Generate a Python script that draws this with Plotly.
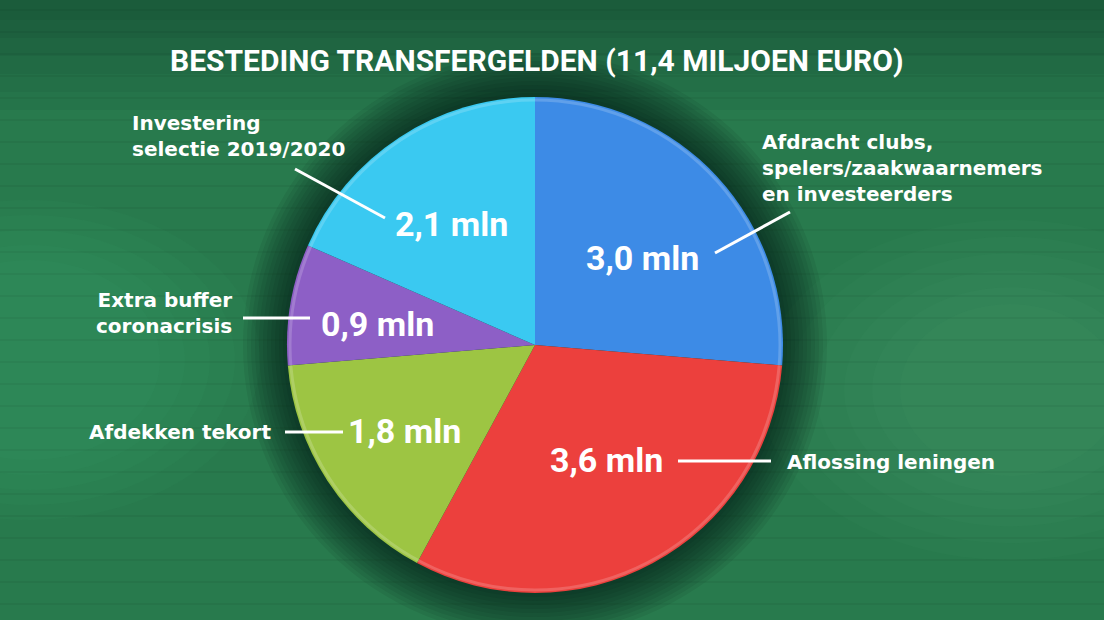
import plotly.graph_objects as go

# ---- data ----
categories = ["Afdracht clubs,<br>spelers/zaakwaarnemers<br>en investeerders",
              "Aflossing leningen",
              "Afdekken tekort",
              "Extra buffer<br>coronacrisis",
              "Investering<br>selectie 2019/2020"]
values = [3.0, 3.6, 1.8, 0.9, 2.1]
colors = ["#3d8be6", "#ec403d", "#9dc543", "#8d5fc6", "#3ac9f1"]
title_text = "BESTEDING TRANSFERGELDEN (11,4 MILJOEN EURO)"

W, H = 1104, 620
CX, CY, R = 535, 345, 248
NARROW = "Roboto, Liberation Sans, sans-serif"

def px(x):
    return x / W

def py(y):
    return 1 - y / H

fig = go.Figure()
fig.add_trace(go.Pie(
    values=values, labels=categories, sort=False, direction="clockwise", rotation=0,
    marker=dict(colors=colors, line=dict(width=0)),
    textinfo="none", hoverinfo="label+value", showlegend=False,
    domain=dict(x=[px(CX - R), px(CX + R)], y=[py(CY + R), py(CY - R)]),
))

shapes = []
# background lighting (soft, layered)
for i in range(6):
    shapes.append(dict(type="rect", xref="paper", yref="paper", x0=0, x1=1,
                       y0=py(20 + i * 18), y1=1, fillcolor="rgba(0,25,10,0.05)",
                       line=dict(width=0), layer="below"))
for i in range(6):
    s = i * 28
    shapes.append(dict(type="circle", xref="paper", yref="paper",
                       x0=px(760 + s), x1=px(1260 - s), y0=py(560 - s * 0.6), y1=py(220 + s * 0.6),
                       fillcolor="rgba(100,210,150,0.035)", line=dict(width=0), layer="below"))
for i in range(5):
    s = i * 25
    shapes.append(dict(type="circle", xref="paper", yref="paper",
                       x0=px(-200 + s), x1=px(260 - s), y0=py(520 - s * 0.6), y1=py(200 + s * 0.6),
                       fillcolor="rgba(100,210,150,0.03)", line=dict(width=0), layer="below"))
# horizontal scan stripes
for yy in range(10, H, 22):
    shapes.append(dict(type="line", xref="paper", yref="paper", x0=0, x1=1, y0=py(yy), y1=py(yy),
                       line=dict(color="rgba(0,0,0,0.045)", width=2), layer="below"))
# soft shadow around the pie
for k in range(44, 0, -4):
    shapes.append(dict(type="circle", xref="paper", yref="paper",
                       x0=px(CX - R - k), x1=px(CX + R + k), y0=py(CY + R + k), y1=py(CY - R - k),
                       fillcolor="rgba(0,20,8,0.065)", line=dict(width=0), layer="below"))
# subtle bevel rim on the pie edge
shapes.append(dict(type="circle", xref="paper", yref="paper",
                   x0=px(CX - R + 3), x1=px(CX + R - 3), y0=py(CY + R - 3), y1=py(CY - R + 3),
                   fillcolor="rgba(0,0,0,0)", line=dict(color="rgba(255,255,255,0.18)", width=3)))

# leader lines (pixel positions)
leaders = [((715, 253), (790, 212)),
           ((678, 461), (771, 461)),
           ((285, 432), (343, 432)),
           ((243, 318), (310, 318)),
           ((295, 169), (385, 218))]
for (a, b) in leaders:
    shapes.append(dict(type="line", xref="paper", yref="paper", x0=px(a[0]), y0=py(a[1]),
                       x1=px(b[0]), y1=py(b[1]), line=dict(color="white", width=3)))

annotations = []
# value labels inside slices (pixel positions of label centres)
value_pos = [(642, 258), (606, 460), (404, 431), (377, 324), (451, 224)]
for v, (x, y) in zip(values, value_pos):
    annotations.append(dict(xref="paper", yref="paper", x=px(x), y=py(y),
                            text=f"{v:.1f}".replace(".", ",") + " mln", showarrow=False,
                            font=dict(family=NARROW, size=34, color="white", weight="bold"),
                            xanchor="center", yanchor="middle"))

# category labels
label_pos = [(760, 168, "left"), (785, 462, "left"), (273, 432, "right"),
             (234, 313, "right"), (130, 136, "left")]
for cat, (x, y, anchor) in zip(categories, label_pos):
    annotations.append(dict(xref="paper", yref="paper", x=px(x), y=py(y), text=cat,
                            showarrow=False, align=anchor, xanchor=anchor, yanchor="middle",
                            font=dict(family="DejaVu Sans", size=20, color="white", weight="bold")))

annotations.append(dict(xref="paper", yref="paper", x=px(536), y=py(60), text=title_text,
                        showarrow=False, xanchor="center", yanchor="middle",
                        font=dict(family=NARROW, size=30, color="white", weight="bold")))

fig.update_layout(width=W, height=H, margin=dict(l=0, r=0, t=0, b=0),
                  paper_bgcolor="#287a4d", plot_bgcolor="#287a4d",
                  shapes=shapes, annotations=annotations)
fig.write_html("out.html", config={"displayModeBar": False},
               post_script="document.body.style.margin='0px';")
